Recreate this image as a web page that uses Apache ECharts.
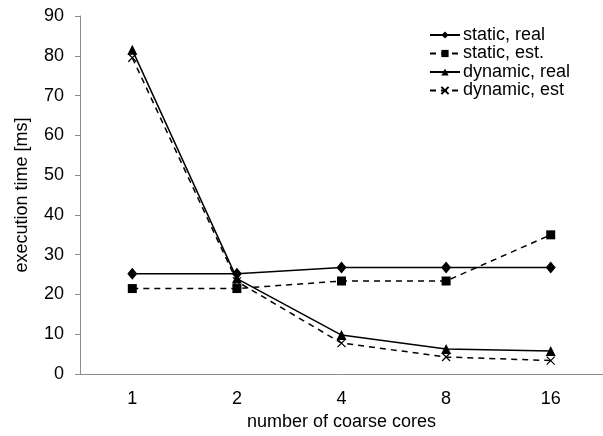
<!DOCTYPE html>
<html>
<head>
<meta charset="utf-8">
<script src="https://cdn.jsdelivr.net/npm/echarts@6/dist/echarts.min.js"></script>
<style>html,body{margin:0;padding:0;background:#fff}#c{width:603px;height:436px}</style>
</head>
<body>
<div id="c"></div>
<script>
const categories = ['1', '2', '4', '8', '16'];
const staticReal = [25.2, 25.2, 26.8, 26.8, 26.8];
const staticEst = [21.5, 21.5, 23.4, 23.4, 35.0];
const dynamicReal = [81.5, 24.0, 9.8, 6.3, 5.8];
const dynamicEst = [79.5, 23.3, 7.8, 4.3, 3.4];
const seriesNames = ['static, real', 'static, est.', 'dynamic, real', 'dynamic, est'];

const font = 'Liberation Sans, Arial, sans-serif';
const axisGray = '#8c8c8c';
const dash = [6, 5];

const chart = echarts.init(document.getElementById('c'), null, {renderer: 'canvas'});
function mk(name, data, symbol, size, dashed, hollow) {
  return {
    name: name, type: 'line', data: data,
    symbol: symbol, symbolSize: size, showSymbol: true,
    lineStyle: {color: '#000', width: 1.5, type: dashed ? dash : 'solid'},
    itemStyle: hollow ? {color: 'rgba(0,0,0,0)', borderColor: '#000', borderWidth: 1.2} : {color: '#000', borderWidth: 0},
    emphasis: {disabled: true},
    animation: false
  };
}
chart.setOption({
  animation: false,
  textStyle: {fontFamily: font},
  grid: {left: 80, right: 0, top: 16, bottom: 61},
  legend: {
    left: 429, top: 26, orient: 'vertical', padding: 0,
    itemWidth: 30, itemHeight: 9, itemGap: 0.5,
    textStyle: {fontSize: 18, lineHeight: 17, color: '#000', fontFamily: font, padding: [0, 0, 0, -2]},
    data: seriesNames
  },
  xAxis: {
    type: 'category', data: categories, boundaryGap: true,
    name: 'number of coarse cores', nameLocation: 'middle', nameGap: 36,
    nameTextStyle: {fontSize: 18, color: '#000', fontFamily: font},
    axisLine: {lineStyle: {color: axisGray, width: 1}},
    axisTick: {alignWithLabel: true, length: 5, lineStyle: {color: axisGray}},
    axisLabel: {fontSize: 18, color: '#000', margin: 16, fontFamily: font}
  },
  yAxis: {
    type: 'value', min: 0, max: 90, interval: 10,
    name: 'execution time [ms]', nameLocation: 'middle', nameGap: 49,
    nameTextStyle: {fontSize: 18, color: '#000', fontFamily: font},
    axisLine: {show: true, lineStyle: {color: axisGray, width: 1}},
    axisTick: {show: true, length: 5, lineStyle: {color: axisGray}},
    axisLabel: {fontSize: 18, color: '#000', margin: 16, fontFamily: font},
    splitLine: {show: false}
  },
  series: [
    mk(seriesNames[0], staticReal, 'diamond', [10, 12], false, false),
    mk(seriesNames[1], staticEst, 'rect', 9, true, false),
    mk(seriesNames[2], dynamicReal, 'triangle', 10, false, false),
    mk(seriesNames[3], dynamicEst, 'path://M0,0L10,10M10,0L0,10', 8, true, true)
  ]
});
</script>
</body>
</html>
